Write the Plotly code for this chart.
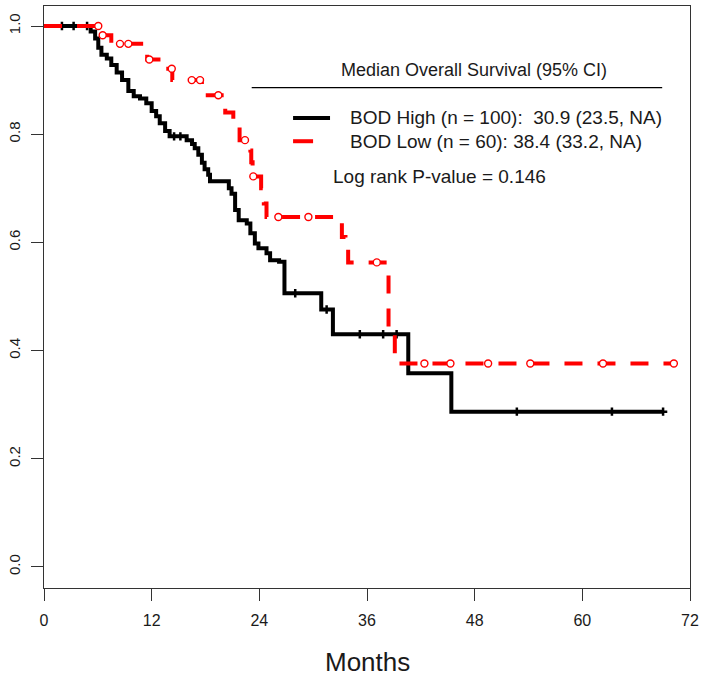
import numpy as np
import plotly.graph_objects as go

# ---- data ----
high_times = [0, 5.2, 5.7, 6.05, 6.4, 7.0, 7.5, 8.1, 8.7, 9.4, 10.0, 10.7, 11.4, 12.0, 12.5,
              12.9, 13.5, 14.0, 15.9, 16.5, 16.8, 17.2, 17.6, 17.9, 18.3, 18.5, 20.6, 20.9,
              21.3, 21.7, 22.6, 23.0, 23.5, 23.9, 24.8, 25.2, 26.2, 26.8, 30.9, 32.2, 40.6, 45.4]
high_surv = [1.0, 0.99, 0.977, 0.96, 0.947, 0.94, 0.928, 0.914, 0.90, 0.88, 0.87, 0.866, 0.857,
             0.843, 0.833, 0.82, 0.806, 0.796, 0.789, 0.782, 0.774, 0.762, 0.747, 0.735, 0.725,
             0.713, 0.70, 0.69, 0.66, 0.641, 0.635, 0.617, 0.598, 0.589, 0.58, 0.567, 0.564,
             0.506, 0.476, 0.43, 0.358, 0.287]
high_end = 69.0
high_censor = [2.0, 3.3, 4.8, 14.5, 15.2, 28.0, 31.5, 35.2, 37.8, 39.3, 52.7, 63.3, 69.0]

low_times = [0, 6.4, 7.5, 11.5, 13.1, 14.3, 17.6, 17.8, 19.8, 20.2, 21.1, 21.8, 23.0, 23.1,
             23.25, 24.2, 24.5, 24.8, 33.2, 33.6, 33.9, 38.4, 39.1]
low_surv = [1.0, 0.983, 0.967, 0.938, 0.921, 0.90, 0.884, 0.872, 0.856, 0.84, 0.815, 0.789,
            0.77, 0.748, 0.722, 0.70, 0.672, 0.647, 0.61, 0.597, 0.563, 0.43, 0.376]
low_end = 70.2
low_censor = [6.05, 6.54, 8.47, 9.40, 11.74, 14.24, 16.47, 17.39, 19.43, 22.4, 23.33, 26.12,
              29.47, 37.09, 42.4, 45.3, 49.5, 54.2, 62.3, 70.2]

x_ticks = [0, 12, 24, 36, 48, 60, 72]
y_ticks = [0.0, 0.2, 0.4, 0.6, 0.8, 1.0]
y_ticklabels = ["0.0", "0.2", "0.4", "0.6", "0.8", "1.0"]

legend_title = "Median Overall Survival (95% CI)"
high_label = "BOD High (n = 100):  30.9 (23.5, NA)"
low_label = "BOD Low (n = 60): 38.4 (33.2, NA)"
pvalue_label = "Log rank P-value = 0.146"

FONT = "Liberation Sans, Arial, sans-serif"
TXT = "#1a1a1a"


def surv_at(times, surv, t):
    idx = np.searchsorted(np.array(times), np.array(t), side="right") - 1
    return np.array(surv)[idx]


fig = go.Figure()

# BOD High (black solid)
fig.add_trace(go.Scatter(
    x=high_times + [high_end], y=high_surv + [high_surv[-1]],
    mode="lines", line=dict(color="black", width=4, shape="hv"),
    showlegend=False, hoverinfo="skip"))
fig.add_trace(go.Scatter(
    x=high_censor, y=surv_at(high_times, high_surv, high_censor),
    mode="markers", marker=dict(symbol="cross-thin", size=6, line=dict(color="black", width=2.5)),
    showlegend=False, hoverinfo="skip"))

# BOD Low (red dashed)
fig.add_trace(go.Scatter(
    x=low_times + [low_end], y=low_surv + [low_surv[-1]],
    mode="lines", line=dict(color="red", width=4, shape="hv", dash="18px,15px"),
    showlegend=False, hoverinfo="skip"))
fig.add_trace(go.Scatter(
    x=low_censor, y=surv_at(low_times, low_surv, low_censor),
    mode="markers", marker=dict(symbol="circle", size=7, color="white",
                                line=dict(color="red", width=1.4)),
    showlegend=False, hoverinfo="skip"))

# legend block (drawn manually like the R legend)
shapes = [
    dict(type="line", xref="x", yref="y", x0=23.15, x1=68.9, y0=0.886, y1=0.886,
         line=dict(color="black", width=1.2)),
    dict(type="line", xref="x", yref="y", x0=27.76, x1=31.88, y0=0.830, y1=0.830,
         line=dict(color="black", width=4)),
    dict(type="line", xref="x", yref="y", x0=27.76, x1=29.99, y0=0.787, y1=0.787,
         line=dict(color="red", width=4)),
]
annotations = [
    dict(text=legend_title, x=47.9, y=0.919, xref="x", yref="y", showarrow=False,
         xanchor="center", yanchor="middle", font=dict(family=FONT, size=18, color=TXT)),
    dict(text=high_label, x=33.9, y=0.830, xref="x", yref="y", showarrow=False,
         xanchor="left", yanchor="middle", font=dict(family=FONT, size=19, color=TXT)),
    dict(text=low_label, x=33.9, y=0.787, xref="x", yref="y", showarrow=False,
         xanchor="left", yanchor="middle", font=dict(family=FONT, size=19, color=TXT)),
    dict(text=pvalue_label, x=31.96, y=0.721, xref="x", yref="y", showarrow=False,
         xanchor="left", yanchor="middle", font=dict(family=FONT, size=19, color=TXT)),
    dict(text="Months", x=0.5, y=-0.127, xref="paper", yref="paper", showarrow=False,
         xanchor="center", yanchor="middle", font=dict(family=FONT, size=26, color=TXT)),
]

fig.update_layout(
    width=708, height=679,
    margin=dict(l=44, r=18, t=6, b=91),
    paper_bgcolor="white", plot_bgcolor="white",
    font=dict(family=FONT, color=TXT),
    shapes=shapes, annotations=annotations,
    showlegend=False,
)
fig.update_xaxes(
    range=[0, 72], tickvals=x_ticks, ticks="outside", ticklen=12, tickwidth=1.3,
    tickcolor="#333", showline=True, linecolor="#333", linewidth=1.3, mirror=True,
    showgrid=False, zeroline=False, tickfont=dict(family=FONT, size=16, color=TXT),
    ticklabelstandoff=6, automargin=False,
)
fig.update_yaxes(
    range=[-0.039, 1.037], tickvals=y_ticks, ticktext=y_ticklabels, tickangle=-90,
    ticks="outside", ticklen=12, tickwidth=1.3, tickcolor="#333",
    showline=True, linecolor="#333", linewidth=1.3, mirror=True,
    showgrid=False, zeroline=False, tickfont=dict(family=FONT, size=15, color=TXT),
    ticklabelstandoff=5, automargin=False,
)

fig.write_html(
    "out.html",
    config={"displayModeBar": False},
    post_script="document.body.style.margin='0';document.body.style.overflow='hidden';",
)
